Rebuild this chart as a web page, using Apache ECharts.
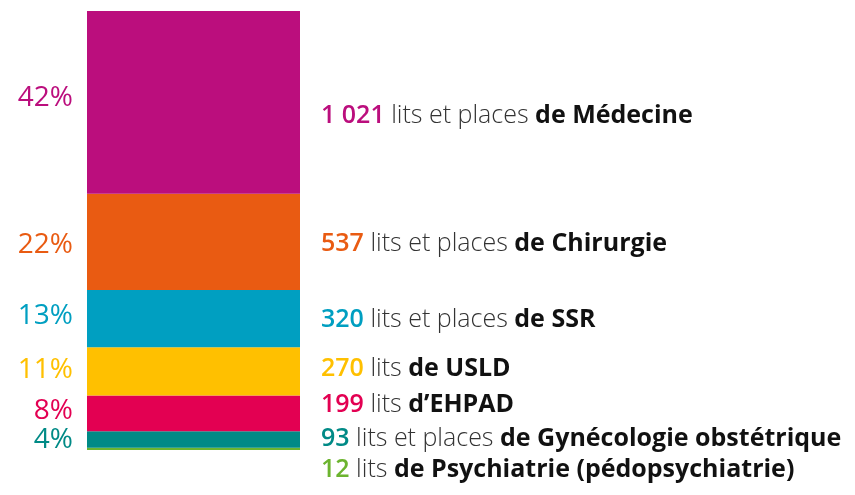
<!DOCTYPE html>
<html><head><meta charset="utf-8">
<script src="https://cdn.jsdelivr.net/npm/echarts@6/dist/echarts.min.js"></script>
<style>html,body{margin:0;padding:0;background:#fff}#c{width:855px;height:495px}</style>
</head><body><div id="c"></div>
<script>
// Data (bottom to top of the stack)
var categories = ['Psychiatrie', 'Gynécologie obstétrique', 'EHPAD', 'USLD', 'SSR', 'Chirurgie', 'Médecine'];
var values = [12, 93, 199, 270, 320, 537, 1021];
var valueLabels = ['12', '93', '199', '270', '320', '537', '1 021'];
var unitTexts = ['lits', 'lits et places', 'lits', 'lits', 'lits et places', 'lits et places', 'lits et places'];
var nameTexts = ['de Psychiatrie (pédopsychiatrie)', 'de Gynécologie obstétrique', 'd\u2019EHPAD', 'de USLD', 'de SSR', 'de Chirurgie', 'de Médecine'];
var pctLabels = ['', '4%', '8%', '11%', '13%', '22%', '42%'];
var colors = ['#6cb42f', '#008a86', '#e30052', '#ffc000', '#009fc1', '#e95b12', '#bb0e7d'];

// Layout (pixel y of text centres)
var rightLabelY = [470, 439, 405, 369, 320, 244, 116];
var leftLabelY = [0, 440, 411, 370, 316, 245, 98];

var total = values.reduce(function (a, b) { return a + b; }, 0);
var chart = echarts.init(document.getElementById('c'));
var FONT = 'Open Sans';

var series = values.map(function (v, i) {
  return {
    type: 'bar', name: categories[i], stack: 'all', data: [v],
    barWidth: '100%', itemStyle: { color: colors[i] }, silent: true
  };
});

chart.setOption({
  animation: false,
  grid: { left: 87, top: 11, width: 213, bottom: 45 },
  xAxis: { type: 'category', data: ['Lits'], show: false },
  yAxis: { type: 'value', min: 0, max: total, show: false },
  series: series
});

var graphics = [];
for (var i = 0; i < values.length; i++) {
  graphics.push({
    type: 'text', x: 321, y: rightLabelY[i],
    style: {
      textVerticalAlign: 'middle',
      rich: {
        n: { fontFamily: FONT, fontSize: 25, fontWeight: 600, fill: colors[i] },
        u: { fontFamily: FONT, fontSize: 25, fontWeight: 300, fill: '#333' },
        b: { fontFamily: FONT, fontSize: 25, fontWeight: 700, fill: '#111' }
      },
      text: '{n|' + valueLabels[i] + '}{u| ' + unitTexts[i] + ' }{b|' + nameTexts[i] + '}'
    }
  });
  if (pctLabels[i]) {
    graphics.push({
      type: 'text', x: 73, y: leftLabelY[i],
      style: { text: pctLabels[i], fontFamily: FONT, fontSize: 28, fontWeight: 400, fill: colors[i], textAlign: 'right', textVerticalAlign: 'middle' }
    });
  }
}
chart.setOption({ graphic: graphics });
</script></body></html>
